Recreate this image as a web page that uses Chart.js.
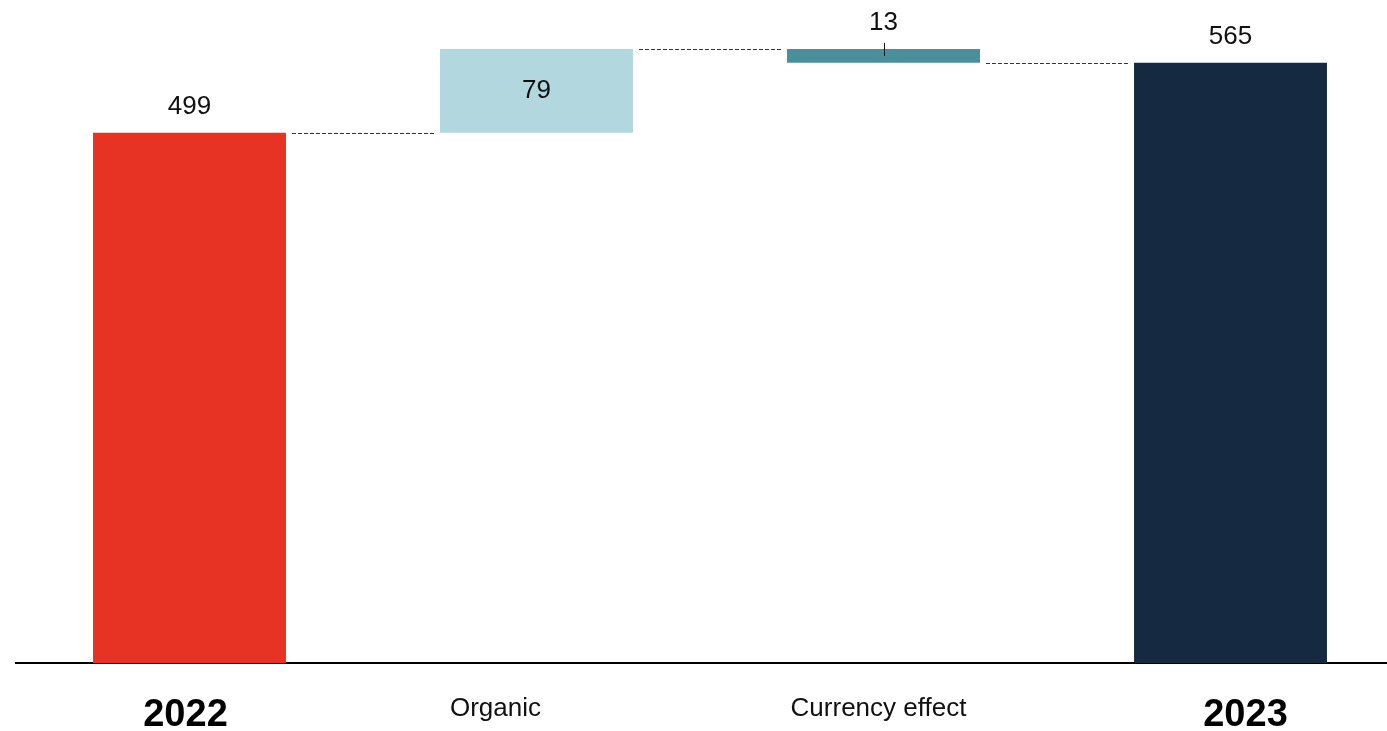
<!DOCTYPE html>
<html>
<head>
<meta charset="utf-8">
<script src="https://cdn.jsdelivr.net/npm/chart.js@4"></script>
<style>
    html, body { margin: 0; padding: 0; background: #fff; overflow: hidden; }
    #wrap { position: relative; width: 1420px; height: 731px; }
</style>
</head>
<body>
<div id="wrap"><canvas id="waterfallChart"></canvas></div>
<script>
// Data
const categories = ['2022', 'Organic', 'Currency effect', '2023'];
const amounts = [499, 79, -13, 565];
const isTotal = [true, false, false, true];
const valueLabels = ['499', '79', '13', '565'];
const barColors = ['#E63323', '#B2D7DF', '#4A8F9B', '#152A40'];

// Build floating ranges for the waterfall
const ranges = [];
let running = 0;
amounts.forEach((v, i) => {
    if (isTotal[i]) {
        ranges.push([0, v]);
        running = v;
    } else {
        ranges.push([running, running + v]);
        running += v;
    }
});

const FONT = '"Liberation Sans", Arial, sans-serif';
// small horizontal nudges for the category labels, as in the reference layout
const labelShift = [-4, -41, -5, 15];

const waterfallExtras = {
    id: 'waterfallExtras',
    afterDatasetsDraw(chart) {
        const ctx = chart.ctx;
        const meta = chart.getDatasetMeta(0);
        const y = chart.scales.y;
        ctx.save();

        // dashed connectors between bars
        ctx.strokeStyle = '#333';
        ctx.lineWidth = 1;
        ctx.setLineDash([4, 2]);
        for (let i = 0; i < meta.data.length - 1; i++) {
            const cur = meta.data[i];
            const next = meta.data[i + 1];
            const level = y.getPixelForValue(ranges[i][1]);
            ctx.beginPath();
            ctx.moveTo(cur.x + cur.width / 2 + 6, Math.round(level) + 0.5);
            ctx.lineTo(next.x - next.width / 2 - 4, Math.round(level) + 0.5);
            ctx.stroke();
        }
        ctx.setLineDash([]);

        // value labels
        ctx.fillStyle = '#111';
        ctx.font = '26px ' + FONT;
        ctx.textAlign = 'center';
        meta.data.forEach((bar, i) => {
            const top = y.getPixelForValue(Math.max(ranges[i][0], ranges[i][1]));
            const bottom = y.getPixelForValue(Math.min(ranges[i][0], ranges[i][1]));
            if (i === 1) {
                ctx.textBaseline = 'middle';
                ctx.fillText(valueLabels[i], bar.x, (top + bottom) / 2);
            } else {
                ctx.textBaseline = 'alphabetic';
                ctx.fillText(valueLabels[i], bar.x, top - 19);
                if (i === 2) {
                    ctx.strokeStyle = '#111';
                    ctx.lineWidth = 1;
                    ctx.beginPath();
                    ctx.moveTo(Math.round(bar.x) + 0.5, top - 6);
                    ctx.lineTo(Math.round(bar.x) + 0.5, top + 7);
                    ctx.stroke();
                }
            }
        });

        // category labels under the axis
        const axisY = chart.chartArea.bottom;
        ctx.textBaseline = 'alphabetic';
        meta.data.forEach((bar, i) => {
            if (isTotal[i]) {
                ctx.font = 'bold 38px ' + FONT;
                ctx.fillStyle = '#000';
                ctx.fillText(categories[i], bar.x + labelShift[i], axisY + 63);
            } else {
                ctx.font = '26px ' + FONT;
                ctx.fillStyle = '#111';
                ctx.fillText(categories[i], bar.x + labelShift[i], axisY + 53);
            }
        });
        ctx.restore();
    }
};

const chart = new Chart(document.getElementById('waterfallChart'), {
    type: 'bar',
    data: {
        labels: categories,
        datasets: [{
            data: ranges,
            backgroundColor: barColors,
            borderWidth: 0,
            categoryPercentage: 1,
            barPercentage: 0.556
        }]
    },
    options: {
        responsive: true,
        maintainAspectRatio: false,
        animation: false,
        layout: { padding: { left: 16, right: 16, top: 0, bottom: 68 } },
        plugins: {
            legend: { display: false },
            tooltip: { enabled: false }
        },
        scales: {
            x: {
                grid: { display: false, drawTicks: false },
                border: { display: true, color: '#000', width: 2 },
                ticks: { display: false }
            },
            y: {
                display: false,
                min: 0,
                max: 624
            }
        }
    },
    plugins: [waterfallExtras]
});
</script>
</body>
</html>
